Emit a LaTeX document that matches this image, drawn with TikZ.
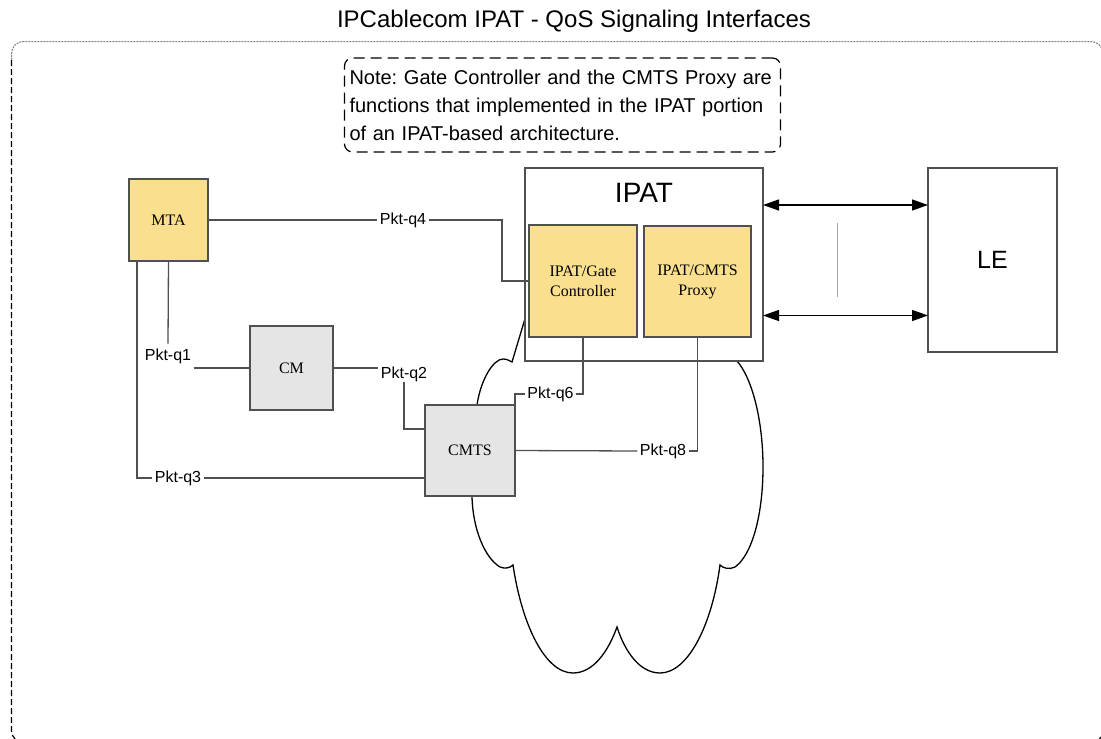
\documentclass[tikz,border=0pt]{standalone}
\usepackage{fontspec}
\setmainfont{Liberation Serif}
\setsansfont{Liberation Sans}
\usetikzlibrary{arrows.meta,calc}

\definecolor{boxyellow}{RGB}{250,223,142}
\definecolor{boxgray}{RGB}{229,229,229}
\definecolor{edgegray}{RGB}{80,80,80}
\definecolor{wiregray}{RGB}{80,80,80}

\begin{document}
\frenchspacing
\begin{tikzpicture}[x=1pt,y=-1pt,
  every node/.style={inner sep=0pt, outer sep=0pt},
  fbox/.style={draw=edgegray, line width=1.3pt, align=center,
    font=\rmfamily\fontsize{16}{20}\selectfont},
  ybox/.style={fbox, fill=boxyellow},
  gbox/.style={fbox, fill=boxgray},
  wbox/.style={draw=edgegray, line width=1.3pt, fill=white},
  wire/.style={draw=wiregray, line width=1.3pt},
  pkt/.style={font=\sffamily\fontsize{16}{19}\selectfont, inner xsep=2.5pt, inner ysep=1pt},
  biarrow/.style={line width=1.3pt,
    {Triangle[length=16pt,width=11pt]}-{Triangle[length=16pt,width=11pt]}},
  cloudline/.style={draw=black, line width=1.3pt},
  notebox/.style={draw=black, line width=1.2pt, dash pattern=on 11pt off 6pt,
    rounded corners=8pt, align=left, inner xsep=5pt, text width=426pt,
    minimum height=94pt,
    font=\sffamily\fontsize{20}{28}\selectfont},
]
\useasboundingbox (0,0) rectangle (1101,739);

% title
\node[font=\sffamily\fontsize{24}{28}\selectfont] (title) at (574,21)
  {IPCablecom IPAT - QoS Signaling Interfaces};

% outer frame: fine dashes on top, longer dashes on the left and bottom
\draw[gray, line width=1pt, dash pattern=on 2pt off 1pt, rounded corners=12pt]
  (11.5,60) -- (11.5,41.5) -- (1103,41.5) -- (1103,60);
\draw[black, line width=1.2pt, dash pattern=on 6pt off 3pt, rounded corners=14pt]
  (11.5,60) -- (11.5,744) -- (1103,744) -- (1103,60);

% note
\node[notebox] (note) at (562.5,105)
  {Note: Gate Controller and the CMTS Proxy are\\
   functions that implemented in the IPAT portion\\
   of an IPAT-based architecture.};

% network cloud (partly hidden behind IPAT and CMTS)
\draw[cloudline] (478,430) -- (477,405)
  .. controls (481,378) and (494,359) .. (503,359)
  .. controls (507,359) and (510,361) .. (512,362)
  -- (527,312) -- (540,250) -- (720,250) -- (735,340) -- (737,361)
  .. controls (752,378) and (763,420) .. (763,467)
  .. controls (763,515) and (752,555) .. (735,567)
  .. controls (729,570) and (723,568) .. (720,565)
  .. controls (712,625) and (688,673) .. (660,673)
  .. controls (640,673) and (625,652) .. (617,627)
  .. controls (608,652) and (593,673) .. (573,673)
  .. controls (545,673) and (522,625) .. (513,565)
  .. controls (510,568) and (505,569) .. (500,567)
  .. controls (485,558) and (473,530) .. (472,497)
  -- (472,430) -- cycle;

% boxes
\node[ybox, minimum width=79pt, minimum height=82pt] (mta) at (168.5,220) {MTA};
\node[gbox, minimum width=83pt, minimum height=84pt] (cm) at (291.5,368) {CM};
\node[gbox, minimum width=90pt, minimum height=91pt] (cmts) at (470,450.5) {CMTS};
\node[wbox, minimum width=238pt, minimum height=193pt] (ipat) at (644,264.5) {};
\node[font=\sffamily\fontsize{28}{32}\selectfont] (ipatlbl) at (644,193) {IPAT};
\node[ybox, minimum width=108pt, minimum height=112pt] (gate) at (583,281)
  {IPAT/Gate\\Controller};
\node[ybox, minimum width=107pt, minimum height=111pt] (proxy) at (697.5,281.5)
  {IPAT/CMTS\\Proxy};
\node[wbox, minimum width=129pt, minimum height=184pt,
  font=\sffamily\fontsize{25}{30}\selectfont] (le) at (992.5,260) {LE};

% interface labels
\node[pkt] (q1) at (168,356) {Pkt-q1};
\node[pkt] (q2) at (404,374) {Pkt-q2};
\node[pkt] (q3) at (178,478) {Pkt-q3};
\node[pkt] (q4) at (403,220) {Pkt-q4};
\node[pkt] (q6) at (550.5,394) {Pkt-q6};
\node[pkt] (q8) at (663,451) {Pkt-q8};

% signaling interfaces
\draw[wire] (mta.east) -- (q4.west);
\draw[wire] (q4.east) -| ($(gate.west)+(-27,0)$) -- (gate.west);
\draw[wire] (mta.south) -- ($(q1.north)+(0,-4)$);
\draw[wire] (q1.east |- cm.west) -- (cm.west);
\draw[wire] (cm.east) -- (cm.east -| q2.west);
\draw[wire] (q2.south) |- ($(cmts.west)+(0,-21.5)$);
\draw[wire] ($(mta.south west)+(8,0)$) |- (q3.west);
\draw[wire] (q3.east) -- (q3.east -| cmts.west);
\draw[wire] (gate.south) |- (q6.east);
\draw[wire] (q6.west) -| (cmts.north east);
\draw[wire] (cmts.east) -- (q8.west);
\draw[wire] (q8.east) -| (proxy.south);

% IPAT <-> LE
\draw[biarrow] ($(ipat.north east)+(0,37)$) -- ($(le.north west)+(0,37)$);
\draw[biarrow] ($(ipat.north east)+(0,147.5)$) -- ($(le.north west)+(0,147.5)$);
\draw[gray!70, line width=0.8pt] (837,223) -- (837,297);
\end{tikzpicture}
\end{document}
